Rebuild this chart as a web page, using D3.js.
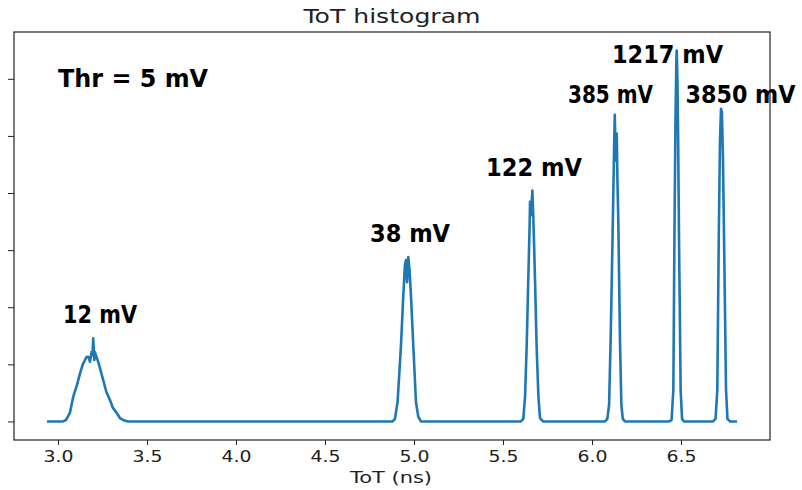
<!DOCTYPE html>
<html>
<head>
<meta charset="utf-8">
<script src="https://cdn.jsdelivr.net/npm/d3@7"></script>
<style>
  html, body { margin: 0; padding: 0; background: #fff; }
  svg { display: block; }
</style>
</head>
<body>
<svg id="chart" width="802" height="490"></svg>
<script>
// ---- Data ----
const totNs = [
  2.938, 3.028, 3.045, 3.067, 3.086, 3.107, 3.124, 3.140, 3.161, 3.171, 3.180, 3.189, 3.194, 3.198, 3.204, 3.208, 3.213, 3.226, 3.242, 3.254, 3.272, 3.292, 3.309, 3.330, 3.348, 3.371, 3.393,
  4.880, 4.893, 4.908, 4.927, 4.940, 4.949, 4.955, 4.961, 4.968, 4.975, 4.983, 4.996, 5.011, 5.024, 5.039,
  5.601, 5.614, 5.624, 5.633, 5.642, 5.649, 5.652, 5.657, 5.665, 5.671, 5.680, 5.689, 5.699, 5.708, 5.725,
  6.073, 6.086, 6.096, 6.105, 6.117, 6.124, 6.128, 6.133, 6.139, 6.143, 6.148, 6.157, 6.165, 6.173, 6.185,
  6.433, 6.447, 6.457, 6.463, 6.469, 6.474, 6.476, 6.480, 6.484, 6.489, 6.498, 6.506, 6.517,
  6.680, 6.694, 6.704, 6.712, 6.719, 6.725, 6.730, 6.736, 6.742, 6.753, 6.761, 6.775, 6.815
];
const counts = [
  0, 0, 50, 300, 870, 1280, 1685, 2010, 2265, 2255, 2090, 2440, 2325, 2910, 2150, 2430, 2325, 2090, 1730, 1450, 1030, 750, 470, 300, 120, 35, 0,
  0, 90, 690, 2670, 4420, 5470, 5650, 4880, 5760, 5300, 4420, 2670, 690, 170, 0,
  0, 90, 870, 2615, 4950, 6700, 7690, 7220, 8090, 7045, 4950, 2615, 870, 120, 0,
  0, 90, 577, 2910, 6985, 9490, 10740, 9140, 10080, 8440, 6985, 2910, 577, 90, 0,
  0, 50, 1100, 6350, 10540, 12640, 12990, 11940, 9840, 6350, 1100, 90, 0,
  0, 90, 1100, 6350, 9840, 10950, 10820, 9140, 6350, 1100, 90, 0, 0
];
const xTicks = [3.0, 3.5, 4.0, 4.5, 5.0, 5.5, 6.0, 6.5];
const xTickLabels = ["3.0", "3.5", "4.0", "4.5", "5.0", "5.5", "6.0", "6.5"];
const yTicks = [0, 2000, 4000, 6000, 8000, 10000, 12000];
const annotationTexts = ["Thr = 5 mV", "12 mV", "38 mV", "122 mV", "385 mV", "1217 mV", "3850 mV"];
const titleText = "ToT histogram";
const xLabelText = "ToT (ns)";

// ---- Layout ----
const plot = { left: 14, right: 770, top: 32, bottom: 440 };
const svg = d3.select("#chart");

const x = d3.scaleLinear().domain([2.753, 7.0]).range([plot.left, plot.right]);
const y = d3.scaleLinear().domain([-650, 13640]).range([plot.bottom, plot.top]);

const points = totNs.map((t, i) => [t, counts[i]]);

// line
svg.append("path")
  .datum(points)
  .attr("fill", "none")
  .attr("stroke", "#1f77b4")
  .attr("stroke-width", 2.6)
  .attr("stroke-linejoin", "round")
  .attr("d", d3.line().x(d => x(d[0])).y(d => y(d[1])));

// axes
const xAxis = svg.append("g")
  .attr("transform", `translate(0,${plot.bottom})`)
  .call(d3.axisBottom(x).tickValues(xTicks).tickFormat((d, i) => xTickLabels[i]).tickSize(5).tickSizeOuter(0));
xAxis.select(".domain").remove();
xAxis.selectAll(".tick line").attr("stroke", "#222").attr("stroke-width", 1);
xAxis.selectAll(".tick text")
  .attr("fill", "#222")
  .attr("font-family", "DejaVu Sans")
  .attr("font-size", 16)
  .attr("y", 0)
  .attr("dy", 0)
  .attr("transform", "translate(0,22)")
  .attr("textLength", 30)
  .attr("lengthAdjust", "spacingAndGlyphs");

const yAxis = svg.append("g")
  .attr("transform", `translate(${plot.left},0)`)
  .call(d3.axisLeft(y).tickValues(yTicks).tickFormat("").tickSize(6).tickSizeOuter(0));
yAxis.select(".domain").remove();
yAxis.selectAll(".tick line").attr("stroke", "#222").attr("stroke-width", 1);

// frame
svg.append("rect")
  .attr("x", plot.left).attr("y", plot.top)
  .attr("width", plot.right - plot.left).attr("height", plot.bottom - plot.top)
  .attr("fill", "none").attr("stroke", "#222").attr("stroke-width", 1.2);

// title
svg.append("text")
  .attr("x", (plot.left + plot.right) / 2).attr("y", 23)
  .attr("text-anchor", "middle")
  .attr("font-family", "DejaVu Sans").attr("font-size", 19.5)
  .attr("fill", "#222")
  .attr("textLength", 177).attr("lengthAdjust", "spacingAndGlyphs")
  .text(titleText);

// x label
svg.append("text")
  .attr("x", 391).attr("y", 483)
  .attr("text-anchor", "middle")
  .attr("font-family", "DejaVu Sans").attr("font-size", 16)
  .attr("fill", "#222")
  .attr("textLength", 82).attr("lengthAdjust", "spacingAndGlyphs")
  .text(xLabelText);

// annotations: [centerX, baselineY, width] in pixels
const annLayout = [
  [133, 87, 150],
  [100, 323, 74],
  [410, 242, 80],
  [534, 176, 96],
  [610.5, 103, 85],
  [667.5, 63, 111],
  [740.5, 103, 110]
];
svg.append("g").selectAll("text")
  .data(annotationTexts)
  .join("text")
  .attr("x", (d, i) => annLayout[i][0])
  .attr("y", (d, i) => annLayout[i][1])
  .attr("text-anchor", "middle")
  .attr("font-family", "DejaVu Sans")
  .attr("font-weight", "bold")
  .attr("font-size", 24)
  .attr("fill", "#000")
  .attr("textLength", (d, i) => annLayout[i][2])
  .attr("lengthAdjust", "spacingAndGlyphs")
  .text(d => d);
</script>
</body>
</html>
